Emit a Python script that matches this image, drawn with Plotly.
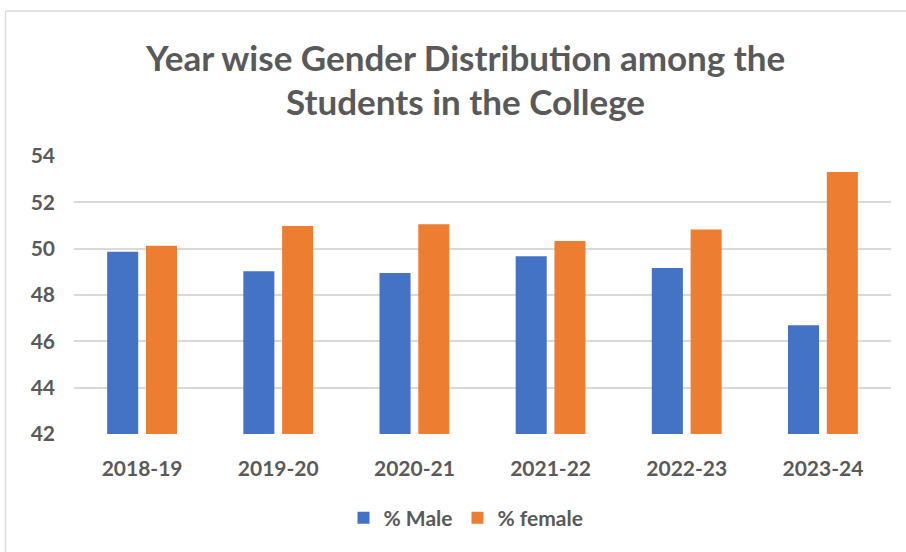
import plotly.graph_objects as go

years = ["2018-19", "2019-20", "2020-21", "2021-22", "2022-23", "2023-24"]
male = [49.87, 49.02, 48.95, 49.67, 49.17, 46.69]
female = [50.13, 50.98, 51.05, 50.33, 50.83, 53.31]
y_ticks = [42, 44, 46, 48, 50, 52, 54]

FONT = "Lato"
GREY = "#595959"

W, H = 906, 552
# plot area in page pixels
PL, PR, PT, PB = 74, 891, 156, 434
L, T = PL, PT
R, B = W - PR, H - PB
pw, ph = W - L - R, H - T - B

def px(x):
    return (x - L) / pw

def py(y):
    return (H - B - y) / ph

fig = go.Figure()
fig.add_trace(go.Bar(x=years, y=male, name="% Male", marker=dict(color="#4472C4", line=dict(width=0))))
fig.add_trace(go.Bar(x=years, y=female, name="% female", marker=dict(color="#ED7D31", line=dict(width=0))))

fig.update_layout(
    width=W, height=H,
    margin=dict(l=L, r=R, t=T, b=B, pad=0),
    paper_bgcolor="white", plot_bgcolor="white",
    barmode="group", bargap=0.43, bargroupgap=0.2,
    font=dict(family=FONT, color=GREY, size=20, weight="bold"),
    showlegend=True,
    legend=dict(orientation="h", x=px(466), y=py(518), xanchor="center", yanchor="middle",
                font=dict(family=FONT, size=21, color=GREY, weight="bold"),
                traceorder="normal"),
    xaxis=dict(showgrid=False, showline=False, zeroline=False, ticks="",
               tickfont=dict(family=FONT, size=21, color=GREY, weight="bold"),
               ticklabelstandoff=20),
    yaxis=dict(range=[42, 54], tickvals=y_ticks, showgrid=True, gridcolor="#d9d9d9", gridwidth=1.5,
               zeroline=False, showline=False, ticks="",
               tickfont=dict(family=FONT, size=21, color=GREY, weight="bold"),
               ticklabelstandoff=18),
    annotations=[
        dict(text="Year wise Gender Distribution among the", xref="paper", yref="paper",
             x=px(465), y=py(57), xanchor="center", yanchor="middle", showarrow=False,
             font=dict(family=FONT, size=35, color=GREY, weight="bold")),
        dict(text="Students in the College", xref="paper", yref="paper",
             x=px(465), y=py(101), xanchor="center", yanchor="middle", showarrow=False,
             font=dict(family=FONT, size=35, color=GREY, weight="bold")),
    ],
    shapes=[
        dict(type="line", xref="paper", yref="paper", x0=px(5.5), x1=px(910), y0=py(11), y1=py(11),
             line=dict(color="#d9d9d9", width=1.5)),
        dict(type="line", xref="paper", yref="paper", x0=px(5.5), x1=px(5.5), y0=py(11), y1=py(560),
             line=dict(color="#d9d9d9", width=1.5)),
    ],
)

fig.write_html("out.html", config={"displayModeBar": False},
               post_script="document.body.style.margin='0px';document.body.style.overflow='hidden';")
